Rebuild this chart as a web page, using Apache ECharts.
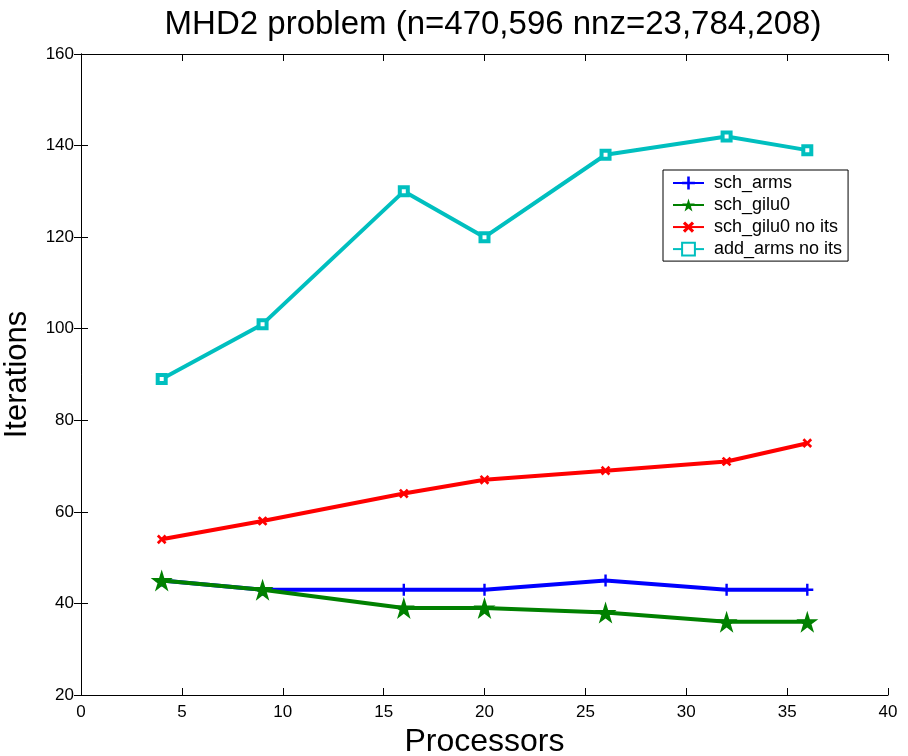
<!DOCTYPE html>
<html><head><meta charset="utf-8">
<script src="https://cdn.jsdelivr.net/npm/echarts@6/dist/echarts.min.js"></script>
<style>html,body{margin:0;padding:0;background:#fff}#c{width:908px;height:756px}</style>
</head><body><div id="c"></div>
<script>
const processors = [4, 9, 16, 20, 26, 32, 36];
const schArms = [45, 43, 43, 43, 45, 43, 43];
const schGilu0 = [45, 43, 39, 39, 38, 36, 36];
const schGilu0NoIts = [54, 58, 64, 67, 69, 71, 75];
const addArmsNoIts = [89, 101, 130, 120, 138, 142, 139];
const seriesNames = ['sch_arms', 'sch_gilu0', 'sch_gilu0 no its', 'add_arms no its'];

const pair = (ys) => processors.map((x, i) => [x, ys[i]]);
const plusPath = 'path://M4,0h2v4h4v2h-4v4h-2v-4h-4v-2h4z';
const xPath = 'path://M4,0h2.6v4h4v2.6h-4v4h-2.6v-4h-4v-2.6h4z';
const starPath = 'path://M50,0L61.8,35.6L100,35.6L69.1,57.6L80.9,93.2L50,71.2L19.1,93.2L30.9,57.6L0,35.6L38.2,35.6Z';
const font = 'Liberation Sans, Arial, sans-serif';

const chart = echarts.init(document.getElementById('c'));
const axisCommon = {
  axisLine: {show: true, lineStyle: {color: '#000', width: 1}},
  axisTick: {show: true, inside: true, length: 7, lineStyle: {color: '#000'}},
  splitLine: {show: false}
};
chart.setOption({
  animation: false,
  backgroundColor: '#fff',
  title: {
    text: 'MHD2 problem (n=470,596 nnz=23,784,208)',
    left: 488, top: 3, textAlign: 'center',
    textStyle: {fontFamily: font, fontSize: 33, fontWeight: 'normal', color: '#000'}
  },
  grid: {left: 81, right: 20, top: 54, bottom: 61, containLabel: false, outerBoundsMode: 'none'},
  legend: {
    orient: 'vertical', left: 663, top: 170,
    data: seriesNames,
    backgroundColor: '#fff', borderColor: '#000', borderWidth: 1,
    padding: [4, 6, 3, 9], itemGap: 4, itemWidth: 31, itemHeight: 16,
    textStyle: {fontFamily: font, fontSize: 18, color: '#000', lineHeight: 17, padding: [0, 0, 0, 5]}
  },
  xAxis: [
    Object.assign({type: 'value', min: 0, max: 40, interval: 5, position: 'bottom',
      name: 'Processors', nameLocation: 'middle', nameGap: 30,
      nameTextStyle: {fontFamily: font, fontSize: 32, color: '#000'},
      axisLabel: {fontFamily: font, fontSize: 17, color: '#000', margin: 9}}, axisCommon),
    Object.assign({type: 'value', min: 0, max: 40, interval: 5, position: 'top',
      axisLabel: {show: false}}, axisCommon)
  ],
  yAxis: [
    Object.assign({type: 'value', min: 20, max: 160, interval: 20, position: 'left',
      name: 'Iterations', nameLocation: 'middle', nameGap: 48, nameMoveOverlap: false,
      nameTextStyle: {fontFamily: font, fontSize: 31, color: '#000'},
      axisLabel: {fontFamily: font, fontSize: 17, color: '#000', margin: 7}}, axisCommon),
    Object.assign({type: 'value', min: 20, max: 160, interval: 20, position: 'right',
      axisLabel: {show: false}}, axisCommon)
  ],
  series: [
    {name: seriesNames[0], type: 'line', data: pair(schArms), symbol: plusPath, symbolSize: 12,
      lineStyle: {color: '#0000ff', width: 4}, itemStyle: {color: '#0000ff'}, z: 3},
    {name: seriesNames[1], type: 'line', data: pair(schGilu0), symbol: starPath, symbolSize: 22,
      lineStyle: {color: '#008000', width: 4}, itemStyle: {color: '#008000'}, z: 4},
    {name: seriesNames[2], type: 'line', data: pair(schGilu0NoIts), symbol: xPath, symbolSize: 11, symbolRotate: 45,
      lineStyle: {color: '#ff0000', width: 4}, itemStyle: {color: '#ff0000'}, z: 3},
    {name: seriesNames[3], type: 'line', data: pair(addArmsNoIts), symbol: 'rect', symbolSize: 8,
      lineStyle: {color: '#00bfbf', width: 4}, itemStyle: {color: '#fff', borderColor: '#00bfbf', borderWidth: 4}, z: 3}
  ]
});
</script></body></html>
